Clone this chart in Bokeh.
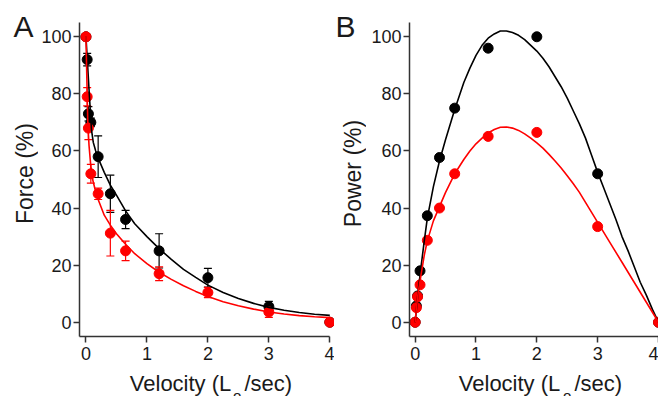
import math
from bokeh.plotting import figure
from bokeh.layouts import row, column
from bokeh.models import Whisker, TeeHead, ColumnDataSource, FixedTicker, Range1d
from bokeh.core.properties import value
from bokeh.embed import file_html
from bokeh.resources import INLINE

# ---------------- data ----------------
velocity = [0, 0.02, 0.04, 0.08, 0.2, 0.4, 0.65, 1.2, 2, 3, 4]

force_black = [100, 92, 73, 70, 58, 45, 36, 25, 15.6, 5.5, 0]
force_black_err = [0, 2.2, 2.5, 1.5, 7.3, 6.5, 3.2, 6, 3.3, 1.8, 0]
force_red = [100, 79, 68, 52, 45, 31.2, 25, 17, 10.4, 3.6, 0]
force_red_err = [0, 3.2, 4, 3.3, 2, 8, 3.4, 2.4, 1.8, 1.9, 0]

power_black = [0, 5.7, 9.2, 18, 37.3, 57.7, 75, 96, 100, 52, 0]
power_red = [0, 5.1, 8.9, 13.1, 28.7, 40, 52, 65.1, 66.5, 33.5, 0]

# fitted curves
fit_force_black_x = [0, 0.03, 0.06, 0.09, 0.12, 0.16, 0.2, 0.3, 0.4, 0.5, 0.65, 0.8, 1.0, 1.2, 1.4,
                     1.6, 1.8, 2.0, 2.25, 2.5, 2.75, 3.0, 3.25, 3.5, 3.75, 4.0]
fit_force_black_y = [100, 89, 78, 67.5, 63, 60, 57.5, 52.5, 48, 44.5, 39, 34.5, 30, 25.8, 22,
                     18.5, 15.7, 13, 10.4, 8.3, 6.6, 5.2, 4.2, 3.4, 2.8, 2.4]
fit_force_red_x = [0, 0.015, 0.03, 0.05, 0.08, 0.11, 0.15, 0.2, 0.3, 0.4, 0.5, 0.65, 0.8, 1.0, 1.2,
                   1.4, 1.6, 1.8, 2.0, 2.25, 2.5, 2.75, 3.0, 3.25, 3.5, 3.75, 4.0]
fit_force_red_y = [100, 85, 70, 62, 54.5, 50, 46.5, 43, 37.5, 34, 31, 27.3, 24, 20.5, 17.5,
                   15, 12.8, 10.8, 9.0, 7.2, 5.8, 4.6, 3.6, 2.9, 2.3, 1.9, 1.6]

fit_power_black_x = [0, 0.02, 0.05, 0.1, 0.15, 0.2, 0.3, 0.4, 0.5, 0.65, 0.8, 0.9, 1.0, 1.1, 1.2,
                     1.3, 1.4, 1.5, 1.6, 1.7, 1.8, 1.9, 2.0, 2.1, 2.2, 2.3, 2.4, 2.5, 2.6, 2.7,
                     2.8, 2.9, 3.0, 3.1, 3.2, 3.3, 3.4, 3.5, 3.6, 3.7, 3.8, 3.9, 4.0]
fit_power_black_y = [0, 4.5, 11, 20, 28.5, 36.5, 47.5, 56.5, 64, 74.5, 84, 89, 93.5, 97, 99.5,
                     101, 102, 102, 101.5, 100.5, 99, 97, 95, 92.5, 89.5, 86, 82.5, 78.5, 74, 69.5,
                     64.5, 58.5, 52.5, 47, 41.5, 36, 30, 25, 19.5, 14, 9.5, 4.5, 0]
fit_power_red_x = [0, 0.02, 0.05, 0.1, 0.15, 0.2, 0.3, 0.4, 0.5, 0.65, 0.8, 0.9, 1.0, 1.1, 1.2,
                   1.3, 1.4, 1.5, 1.6, 1.7, 1.8, 1.9, 2.0, 2.1, 2.2, 2.3, 2.4, 2.5, 2.6, 2.7,
                   2.8, 2.9, 3.0, 3.2, 3.4, 3.6, 3.8, 4.0]
fit_power_red_y = [0, 5, 10.5, 17, 23.5, 28.5, 35.5, 40.5, 45.5, 52, 57, 60, 62.5, 64.5, 66.3,
                   67.5, 68.3, 68.4, 68, 67.2, 66, 64.5, 62.8, 61, 58.8, 56.5, 54, 51.3, 48.5, 45.5,
                   42, 38.5, 35, 28, 21, 14, 7, 0]

x_ticks = [0, 1, 2, 3, 4]
y_ticks = [0, 20, 40, 60, 80, 100]

FONT = "Liberation Sans"
AXIS_COLOR = "#333333"
TEXT_COLOR = "#1a1a1a"
RED = "#ff0000"
ROW_H = 370
TOTAL_H = 396
BOTTOM_BORDER = 34          # room for the x tick labels
FRAME_H = ROW_H - BOTTOM_BORDER
Y_TOP = 105 + 22 * 110.0 / 314.0   # frame reaches the top edge; axis line stops at 105


def style(p):
    p.outline_line_color = None
    p.xgrid.visible = False
    p.ygrid.visible = False
    for ax in (p.xaxis[0], p.yaxis[0]):
        ax.axis_line_color = AXIS_COLOR
        ax.axis_line_width = 1.5
        ax.major_tick_line_color = AXIS_COLOR
        ax.major_tick_line_width = 1.5
        ax.major_tick_out = 6
        ax.major_tick_in = 0
        ax.minor_tick_line_color = None
        ax.major_label_text_font = FONT
        ax.major_label_text_font_size = "18px"
        ax.major_label_text_color = TEXT_COLOR
    p.xaxis[0].ticker = FixedTicker(ticks=x_ticks)
    p.yaxis[0].ticker = FixedTicker(ticks=y_ticks)
    p.xaxis[0].major_label_standoff = 4
    p.yaxis[0].major_label_standoff = 2
    p.yaxis[0].bounds = (-5, 105)


def strip(width):
    # text-only strip in the plot row: same borders as the plots, data y = pixels from row bottom
    s = figure(width=width, height=ROW_H, output_backend="svg", toolbar_location=None,
               title=None, x_axis_location=None, y_axis_location=None,
               x_range=Range1d(0, width), y_range=Range1d(BOTTOM_BORDER, ROW_H),
               min_border=0, min_border_left=0, min_border_right=0,
               min_border_top=0, min_border_bottom=BOTTOM_BORDER)
    s.outline_line_color = None
    s.xgrid.visible = False
    s.ygrid.visible = False
    return s


def blank(width, height):
    s = figure(width=width, height=height, output_backend="svg", toolbar_location=None,
               title=None, x_axis_location=None, y_axis_location=None,
               x_range=Range1d(0, width), y_range=Range1d(0, height),
               min_border=0, min_border_left=0, min_border_right=0,
               min_border_top=0, min_border_bottom=0)
    s.outline_line_color = None
    s.xgrid.visible = False
    s.ygrid.visible = False
    return s


def add_text(p, x, y, text, size, angle=0.0, align="left"):
    p.text(x=[x], y=[y], text=[text], angle=angle,
           text_font=value(FONT), text_font_size=value(size), text_color=TEXT_COLOR,
           text_align=align, text_baseline="alphabetic")


def add_whiskers(p, x, y, err, color):
    src = ColumnDataSource(data=dict(
        x=x, upper=[a + b for a, b in zip(y, err)], lower=[a - b for a, b in zip(y, err)]))
    w = Whisker(base="x", upper="upper", lower="lower", source=src,
                line_color=color, line_width=1.2,
                upper_head=TeeHead(size=8, line_color=color, line_width=1.2),
                lower_head=TeeHead(size=8, line_color=color, line_width=1.2))
    p.add_layout(w)


# ---------------- left strip: "A" + y label ----------------
stripA = strip(38)
add_text(stripA, 13, ROW_H - 26, "A", "30px")
add_text(stripA, 24.5, ROW_H - 173, "Force (%)", "23px", angle=math.pi / 2, align="center")

# ---------------- Panel A ----------------
pA = figure(width=296, height=ROW_H, output_backend="svg", toolbar_location=None, title=None,
            x_range=Range1d(-0.106, 4.077), y_range=Range1d(-5, Y_TOP),
            min_border_left=40, min_border_right=0, min_border_top=0,
            min_border_bottom=BOTTOM_BORDER)
style(pA)
pA.xaxis[0].bounds = (-0.106, 4.0)

add_whiskers(pA, velocity, force_black, force_black_err, "black")
pA.scatter(velocity, force_black, size=10, color="black")
add_whiskers(pA, velocity, force_red, force_red_err, RED)
pA.scatter(velocity, force_red, size=10, color=RED)
pA.line(fit_force_black_x, fit_force_black_y, line_color="black", line_width=1.6)
pA.line(fit_force_red_x, fit_force_red_y, line_color=RED, line_width=1.6)

# ---------------- middle strip: "B" + y label ----------------
stripB = strip(32)
add_text(stripB, 1, ROW_H - 26, "B", "30px")
add_text(stripB, 18, ROW_H - 173, "Power (%)", "23px", angle=math.pi / 2, align="center")

# ---------------- Panel B ----------------
pB = figure(width=292, height=ROW_H, output_backend="svg", toolbar_location=None, title=None,
            x_range=Range1d(-0.093, 4.0), y_range=Range1d(-5, Y_TOP),
            min_border_left=43, min_border_right=0, min_border_top=0,
            min_border_bottom=BOTTOM_BORDER)
style(pB)

pB.scatter(velocity, power_black, size=10, color="black")
pB.scatter(velocity, power_red, size=10, color=RED)
pB.line(fit_power_black_x, fit_power_black_y, line_color="black", line_width=1.6)
pB.line(fit_power_red_x, fit_power_red_y, line_color=RED, line_width=1.6)

# ---------------- bottom strip: x labels ----------------
BOT_H = TOTAL_H - ROW_H
bottom = blank(658, BOT_H)
for x0, x1, x2 in ((129.3, 232.5, 244), (458.3, 562.5, 574)):
    add_text(bottom, x0, 12.6, "Velocity (L", "22px")
    add_text(bottom, x1, 1, "o", "15px")
    add_text(bottom, x2, 12.6, "/sec)", "22px")

layout = column(row(stripA, pA, stripB, pB), bottom)
open("out.html", "w").write(file_html(layout, INLINE))
